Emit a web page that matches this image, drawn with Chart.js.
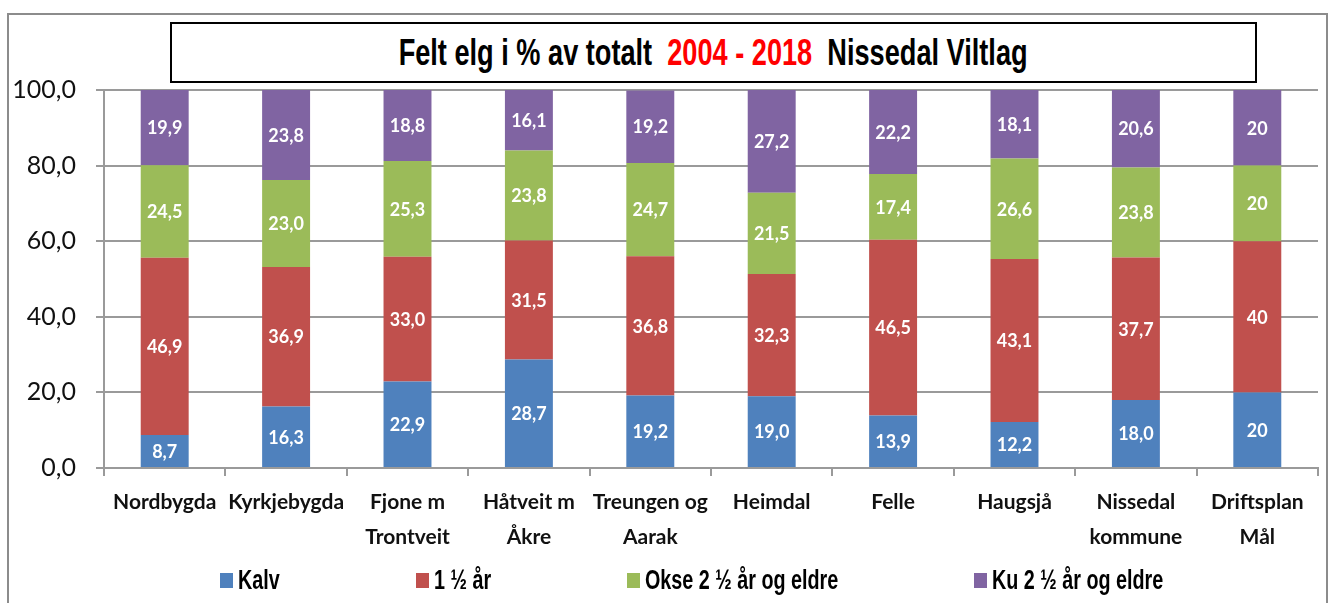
<!DOCTYPE html>
<html>
<head>
<meta charset="utf-8">
<script src="https://cdn.jsdelivr.net/npm/chart.js@4/dist/chart.umd.min.js"></script>
<style>
    html, body { margin: 0; padding: 0; background: #fff; }
    #wrap { position: relative; width: 1336px; height: 603px; overflow: hidden; }
    #frame {
        position: absolute; left: 7px; top: 13px; width: 1321px; height: 640px;
        border: 2px solid #8c8c8c; box-sizing: border-box;
    }
    #chart { position: absolute; left: 0; top: 0; }
    #title {
        position: absolute; left: 170px; top: 22px; width: 1087px; height: 61px;
        box-sizing: border-box; border: 2.5px solid #000; background: #fff;
        display: flex; align-items: center; justify-content: center;
        font-family: "Liberation Sans", Arial, sans-serif;
        font-weight: bold; font-size: 33px; color: #000; white-space: pre;
    }
    #title span.t { display: inline-block; transform: scale(0.823, 1.12); }
    #title .red { color: #ff0000; }
    #legend {
        position: absolute; left: 220px; top: 566px; display: flex; gap: 136px;
        font-family: "Liberation Sans", Arial, sans-serif;
        font-weight: bold; font-size: 24px; color: #000;
    }
    #legend .item { display: flex; align-items: center; white-space: pre; }
    #legend .box { width: 13px; height: 15px; margin-right: 5px; }
    #legend .txt { display: inline-block; transform-origin: left center; transform: scale(0.823, 1.15); }
</style>
</head>
<body>
<div id="wrap">
    <div id="frame"></div>
    <canvas id="chart" width="1336" height="603"></canvas>
    <div id="title"><span class="t">Felt elg i % av totalt  <span class="red">2004 - 2018</span>  Nissedal Viltlag</span></div>
    <div id="legend"></div>
</div>
<script>
const categories = [
    "Nordbygda", "Kyrkjebygda", ["Fjone m", "Trontveit"], ["Håtveit m", "Åkre"],
    ["Treungen og", "Aarak"], "Heimdal", "Felle", "Haugsjå",
    ["Nissedal", "kommune"], ["Driftsplan", "Mål"]
];
const seriesNames = ["Kalv", "1 ½ år", "Okse 2 ½ år og eldre", "Ku 2 ½ år og eldre"];
const seriesColors = ["#4f81bd", "#c0504d", "#9bbb59", "#8064a2"];

const kalv = [8.7, 16.3, 22.9, 28.7, 19.2, 19.0, 13.9, 12.2, 18.0, 20];
const halvannet = [46.9, 36.9, 33.0, 31.5, 36.8, 32.3, 46.5, 43.1, 37.7, 40];
const okse = [24.5, 23.0, 25.3, 23.8, 24.7, 21.5, 17.4, 26.6, 23.8, 20];
const ku = [19.9, 23.8, 18.8, 16.1, 19.2, 27.2, 22.2, 18.1, 20.6, 20];
// decimals shown in the labels (the plan column is whole numbers)
const labelDecimals = [1, 1, 1, 1, 1, 1, 1, 1, 1, 0];

const yTicks = [0, 20, 40, 60, 80, 100];

const gridColor = "#9a9a9a";

function fmt(v, d) {
    return v.toFixed(d).replace(".", ",");
}

const valueLabels = {
    id: "valueLabels",
    afterDatasetsDraw(chart) {
        const ctx = chart.ctx;
        ctx.save();
        ctx.font = "bold 18px Lato";
        ctx.fillStyle = "#fff";
        ctx.textAlign = "center";
        ctx.textBaseline = "middle";
        chart.data.datasets.forEach((ds, i) => {
            chart.getDatasetMeta(i).data.forEach((bar, j) => {
                const p = bar.getProps(["x", "y", "base"], true);
                ctx.fillText(fmt(ds.data[j], labelDecimals[j]), p.x, (p.y + p.base) / 2 + 1);
            });
        });
        ctx.restore();
    }
};

const allSeries = [kalv, halvannet, okse, ku];

const chart = new Chart(document.getElementById("chart").getContext("2d"), {
    type: "bar",
    data: {
        labels: categories,
        datasets: allSeries.map((data, i) => ({
            label: seriesNames[i],
            data: data,
            backgroundColor: seriesColors[i],
            borderWidth: 0,
            categoryPercentage: 1,
            barPercentage: 0.395
        }))
    },
    options: {
        responsive: false,
        animation: false,
        devicePixelRatio: 1,
        layout: { padding: { left: 0, right: 18, top: 90, bottom: 55 } },
        plugins: {
            legend: { display: false },
            title: { display: false },
            tooltip: { enabled: false }
        },
        scales: {
            x: {
                stacked: true,
                grid: { drawOnChartArea: false, drawTicks: true, tickLength: 8, color: gridColor, lineWidth: 2, offset: true },
                border: { color: gridColor, width: 2 },
                ticks: {
                    color: "#111",
                    font: { family: "Lato", weight: "bold", size: 21, lineHeight: 1.7 },
                    padding: 8,
                    maxRotation: 0,
                    autoSkip: false
                },
                afterFit(scale) { scale.height = 80; }
            },
            y: {
                stacked: true,
                min: 0,
                max: 100,
                afterBuildTicks(scale) { scale.ticks = yTicks.map(v => ({ value: v })); },
                grid: { color: gridColor, lineWidth: 2, tickLength: 8 },
                border: { color: gridColor, width: 2 },
                ticks: {
                    color: "#111",
                    font: { family: "Lato", size: 25 },
                    padding: 20,
                    callback: v => fmt(v, 1)
                },
                afterFit(scale) { scale.width = 104; }
            }
        }
    },
    plugins: [valueLabels]
});

// legend built from the chart's datasets
const legendEl = document.getElementById("legend");
chart.data.datasets.forEach(ds => {
    const item = document.createElement("div");
    item.className = "item";
    const box = document.createElement("span");
    box.className = "box";
    box.style.background = ds.backgroundColor;
    const txt = document.createElement("span");
    txt.className = "txt";
    txt.textContent = ds.label;
    item.appendChild(box);
    item.appendChild(txt);
    legendEl.appendChild(item);
    // the text is squeezed horizontally, so give back the space it no longer uses
    txt.style.marginRight = (-(1 - 0.823) * txt.offsetWidth) + "px";
});
</script>
</body>
</html>
